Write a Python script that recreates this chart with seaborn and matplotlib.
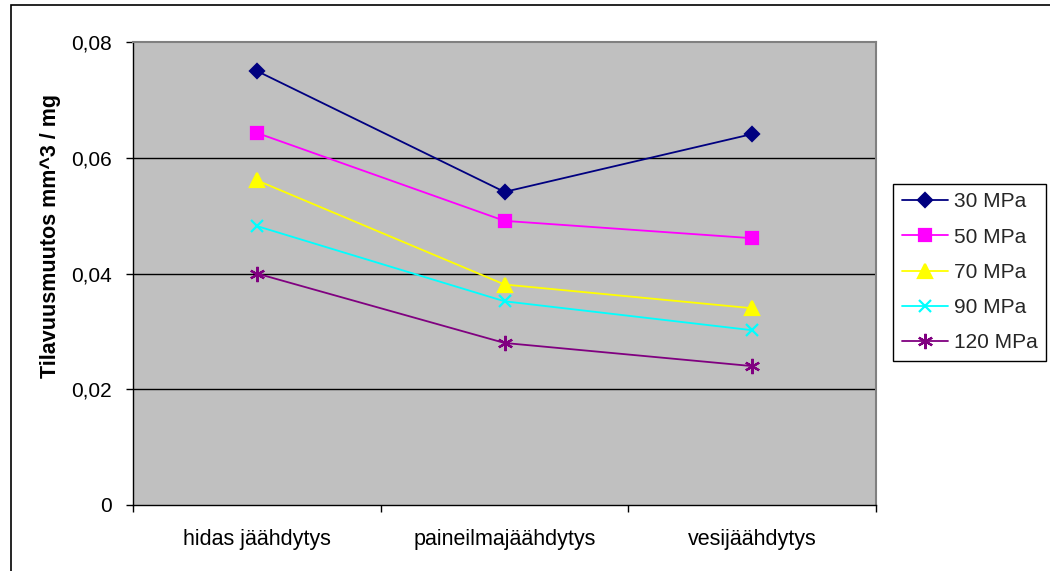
import matplotlib
matplotlib.use("Agg")
import matplotlib.pyplot as plt
import matplotlib.ticker as mticker
import seaborn as sns
import pandas as pd

# Cooling methods (x categories)
categories = ["hidas jäähdytys", "paineilmajäähdytys", "vesijäähdytys"]

# Volume change per pressure level, mm^3 / mg
mpa_30 = [0.0750, 0.0541, 0.0641]
mpa_50 = [0.0643, 0.0491, 0.0461]
mpa_70 = [0.0561, 0.0381, 0.0340]
mpa_90 = [0.0482, 0.0352, 0.0302]
mpa_120 = [0.0400, 0.0280, 0.0240]

series_names = ["30 MPa", "50 MPa", "70 MPa", "90 MPa", "120 MPa"]
series_values = [mpa_30, mpa_50, mpa_70, mpa_90, mpa_120]

y_ticks = [0, 0.02, 0.04, 0.06, 0.08]

rows = []
for name, vals in zip(series_names, series_values):
    for i, v in enumerate(vals):
        rows.append({"pos": i, "menetelmä": categories[i], "sarja": name, "arvo": v})
df = pd.DataFrame(rows)

sns.set_theme(style="white")
plt.rcParams["font.family"] = ["Liberation Sans", "DejaVu Sans"]

colors = {"30 MPa": "#000080", "50 MPa": "#FF00FF", "70 MPa": "#FFFF00",
          "90 MPa": "#00FFFF", "120 MPa": "#800080"}
markers = {"30 MPa": "D", "50 MPa": "s", "70 MPa": "^",
           "90 MPa": "x", "120 MPa": (6, 2, 0)}
msizes = {"30 MPa": 7.5, "50 MPa": 8, "70 MPa": 9.5, "90 MPa": 9, "120 MPa": 11}

fig = plt.figure(figsize=(10.5, 5.71), dpi=100)
fig.patch.set_facecolor("white")
ax = fig.add_axes([0.1267, 0.1156, 0.7076, 0.8108])
ax.set_facecolor("#C0C0C0")

for name in series_names:
    sub = df[df["sarja"] == name]
    sns.lineplot(data=sub, x="pos", y="arvo", ax=ax, color=colors[name],
                 marker=markers[name], markersize=msizes[name],
                 markeredgecolor=colors[name], markerfacecolor=colors[name],
                 markeredgewidth=1.6, linewidth=1.3, label=name, zorder=3)

ax.set_xlim(-0.5, 2.5)
ax.set_ylim(0, 0.08)

# horizontal gridlines
ax.set_yticks(y_ticks)
ax.yaxis.set_major_formatter(mticker.FuncFormatter(
    lambda v, _: "0" if abs(v) < 1e-12 else f"{v:.2f}".replace(".", ",")))
for yv in y_ticks[1:-1]:
    ax.axhline(yv, color="black", linewidth=1.0, zorder=1)

# x: ticks at category boundaries, labels centered
ax.set_xticks([-0.5, 0.5, 1.5, 2.5])
ax.set_xticklabels([])
ax.set_xticks([0, 1, 2], minor=True)
ax.set_xticklabels(categories, minor=True)
ax.tick_params(axis="x", which="major", direction="out", length=5, width=1,
               color="black", bottom=True)
ax.tick_params(axis="x", which="minor", length=0, pad=17, labelsize=15.5,
               labelcolor="black")
ax.tick_params(axis="y", direction="out", length=5, width=1, color="black",
               left=True, pad=10, labelsize=15, labelcolor="black")

for side in ["left", "bottom"]:
    ax.spines[side].set_color("black")
    ax.spines[side].set_linewidth(1.0)
for side in ["top", "right"]:
    ax.spines[side].set_color("#808080")
    ax.spines[side].set_linewidth(1.5)

ax.set_xlabel("")
ax.set_ylabel("Tilavuusmuutos mm^3 / mg", fontsize=15.5, fontweight="bold",
              color="black")
ax.yaxis.set_label_coords(-0.097, 0.58)

ax.get_legend().remove()
handles, labels = ax.get_legend_handles_labels()
leg = fig.legend(handles, labels, loc="center left",
                 bbox_to_anchor=(0.8505, 0.523), frameon=True, fancybox=False,
                 edgecolor="black", facecolor="white", framealpha=1,
                 fontsize=15, handlelength=2.2, labelspacing=0.78,
                 borderpad=0.42, handletextpad=0.3, borderaxespad=0)
leg.get_frame().set_linewidth(1.0)

# outer chart border (runs off the right and bottom edges)
fig.add_artist(plt.Rectangle((11 / 1050, -0.05), 1.1, 1 - 5 / 571 + 0.05,
                             transform=fig.transFigure, fill=False,
                             edgecolor="black", linewidth=1.2))

fig.savefig("out.png", dpi=100, facecolor="white")
